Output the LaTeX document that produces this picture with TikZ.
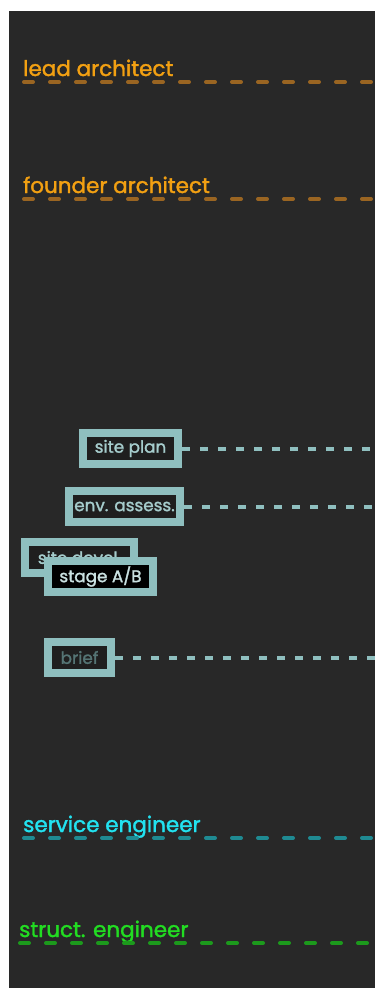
\documentclass[tikz,border=0pt]{standalone}
\usepackage{fontspec}
\setmainfont{Poppins}[FakeBold=1.6]

\definecolor{canvas}{HTML}{282828}
\definecolor{arch-txt}{HTML}{F2A012}
\definecolor{arch-ln}{HTML}{9A6522}
\definecolor{serv-txt}{HTML}{22E2F0}
\definecolor{serv-ln}{HTML}{1F8A92}
\definecolor{struct-txt}{HTML}{22DD22}
\definecolor{struct-ln}{HTML}{1C9A1C}
\definecolor{task-edge}{HTML}{8FBFBF}
\definecolor{task-txt}{HTML}{A6CDCD}
\definecolor{task-fill}{HTML}{1F1F1F}
\definecolor{dim-txt}{HTML}{557575}

\tikzset{
  role/.style={anchor=base west, inner sep=0pt, font=\fontsize{21.5}{25}\selectfont},
  lifeline/.style={line width=4pt, line cap=round, dash pattern=on 9pt off 17pt},
  task/.style={draw=task-edge, line width=8pt, fill=task-fill, text=task-txt,
    inner sep=0pt, minimum height=31pt, font=\fontsize{16.8}{20}\selectfont},
  taskline/.style={task-edge, line width=4pt, dash pattern=on 8pt off 10pt},
}

\begin{document}
\begin{tikzpicture}[x=1pt,y=-1pt]
  \useasboundingbox (0,0) rectangle (375,988);
  \fill[white] (0,0) rectangle (375,988);
  \fill[canvas] (9,11) rectangle (375,988);
  \coordinate (edge) at (375,0);

  % roles with their lifelines
  \foreach \n/\x/\y/\t/\c in {lead/23/76/lead architect/arch,
                              founder/23/193/founder architect/arch,
                              service/23/832/service engineer/serv,
                              struct/19/937/struct. engineer/struct}
  {
    \node[role, text=\c-txt] (\n) at (\x,\y) {\t};
    \coordinate (\n-l) at (\x+1,\y+6);
    \draw[lifeline, \c-ln] (\n-l) -- (\n-l -| edge);
  }

  % tasks
  \node[task, minimum width=95pt] (siteplan) at (130.5,448.5) {site plan};
  \node[task, minimum width=111pt] (envassess) at (124.5,506.5) {env. assess.};
  \node[task, minimum width=109pt] (sitedevel) at (79.5,557.5) {site devel.};
  \node[task, minimum width=105pt, fill=black, text=task-txt!60!white] (stage) at (100.5,576.5) {stage A/B};
  \node[task, minimum width=63pt, text=dim-txt] (brief) at (79.5,657.5) {brief};

  \foreach \t in {siteplan,envassess,brief}
    \draw[taskline] (\t.east) -- (\t.east -| edge);
\end{tikzpicture}
\end{document}
